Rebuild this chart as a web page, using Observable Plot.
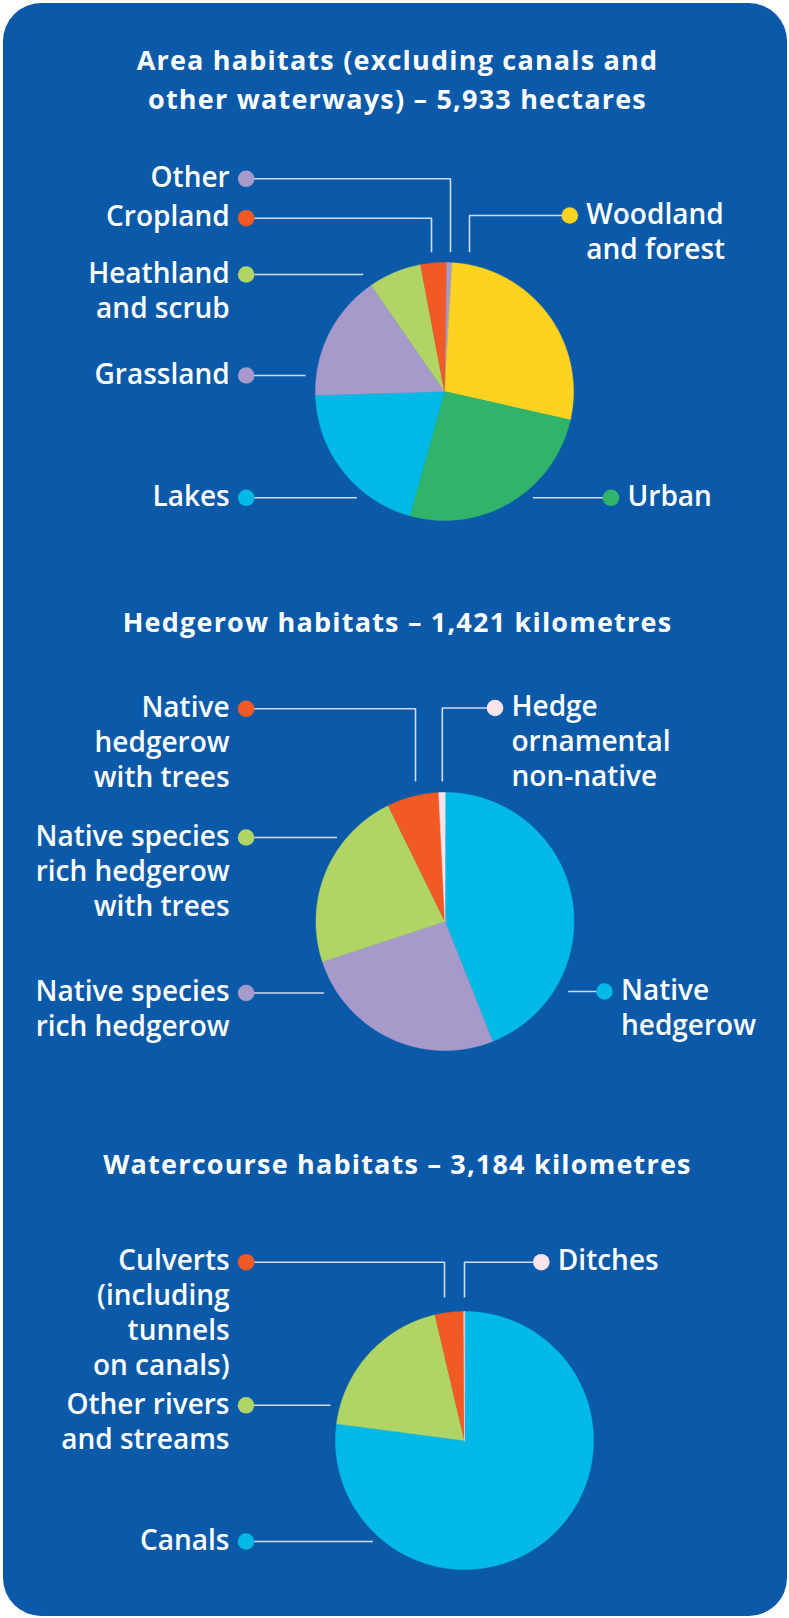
<!DOCTYPE html>
<html><head><meta charset="utf-8">
<script src="https://cdn.jsdelivr.net/npm/d3@7"></script>
<script src="https://cdn.jsdelivr.net/npm/@observablehq/plot@0.6"></script>
<style>
html,body{margin:0;padding:0;background:#fff;}
#card{position:absolute;left:3px;top:3px;width:784px;height:1613px;background:#0a5aa9;border-radius:38px;}
#chart{position:absolute;left:0;top:0;}
</style></head>
<body><div id="card"></div><div id="chart"></div>
<script>
// ---------- DATA ----------
const areaCategories = ["Other","Woodland and forest","Urban","Lakes","Grassland","Heathland and scrub","Cropland"];
const areaLabels = ["Other","Woodland\nand forest","Urban","Lakes","Grassland","Heathland\nand scrub","Cropland"];
const areaHectares = [45,1637,1531,1198,942,392,188];
const areaColors = ["#a69acb","#fdd31f","#2fb46a","#00b9e6","#a69acb","#b0d465","#f15a25"];

const hedgeCategories = ["Native hedgerow","Native species rich hedgerow","Native species rich hedgerow with trees","Native hedgerow with trees","Hedge ornamental non-native"];
const hedgeLabels = ["Native\nhedgerow","Native species\nrich hedgerow","Native species\nrich hedgerow\nwith trees","Native\nhedgerow\nwith trees","Hedge\nornamental\nnon-native"];
const hedgeKm = [625,369,324,92,11];
const hedgeColors = ["#00b9e6","#a69acb","#b0d465","#f15a25","#fbe3e9"];

const waterCategories = ["Canals","Other rivers and streams","Culverts (including tunnels on canals)","Ditches"];
const waterLabels = ["Canals","Other rivers\nand streams","Culverts\n(including\ntunnels\non canals)","Ditches"];
const waterKm = [2454,613,114,3];
const waterColors = ["#00b9e6","#b0d465","#f15a25","#fbe3e9"];

const titles = [
  "Area habitats (excluding canals and\nother waterways) – 5,933 hectares",
  "Hedgerow habitats – 1,421 kilometres",
  "Watercourse habitats – 3,184 kilometres"
];

// ---------- LAYOUT ----------
const W = 789, H = 1618;
const LABEL_SIZE = 28, LABEL_LH = 1.25;
const TITLE_SIZE = 27, TITLE_LH = 1.47;
const DOT_GAP = 16.5;
const titleLayout = [{x:397, y:56.5}, {x:397, y:619}, {x:397, y:1160.5}];
const pieLayout = [
  {cx:444, cy:391, r:129, startDeg:0.7},
  {cx:444.5, cy:921, r:129, startDeg:0},
  {cx:464, cy:1440, r:129, startDeg:0}
];
const areaLabelLayout = [
  {side:"left",  dot:[245.7,178.3], path:[[450,178.3],[450,251.7]]},
  {side:"right", dot:[569.3,215],   path:[[469,215],[469,251.7]]},
  {side:"right", dot:[610.5,497.3], path:[[532.5,497.3]]},
  {side:"left",  dot:[245.7,497.3], path:[[356.3,497.3]]},
  {side:"left",  dot:[245.7,375],   path:[[305,375]]},
  {side:"left",  dot:[245.7,274],   path:[[362.7,274]]},
  {side:"left",  dot:[245.7,217.7], path:[[431,217.7],[431,251.7]]}
];
const hedgeLabelLayout = [
  {side:"right", dot:[604,991],     path:[[567.7,991]]},
  {side:"left",  dot:[245.6,992.5], path:[[323.6,992.5]]},
  {side:"left",  dot:[245.6,837],   path:[[336.5,837]]},
  {side:"left",  dot:[245.6,708.3], path:[[415,708.3],[415,781]]},
  {side:"right", dot:[494.5,707.5], path:[[441.8,707.5],[441.8,781]]}
];
const waterLabelLayout = [
  {side:"left",  dot:[245.5,1541],   path:[[372.4,1541]]},
  {side:"left",  dot:[245.5,1404.8], path:[[330,1404.8]]},
  {side:"left",  dot:[245.6,1261.7], path:[[444,1261.7],[444,1297]]},
  {side:"right", dot:[540.8,1261.7], path:[[464,1261.7],[464,1297]]}
];

const charts = [
  {cats: areaCategories, labels: areaLabels, values: areaHectares, colors: areaColors, pie: pieLayout[0], lab: areaLabelLayout},
  {cats: hedgeCategories, labels: hedgeLabels, values: hedgeKm, colors: hedgeColors, pie: pieLayout[1], lab: hedgeLabelLayout},
  {cats: waterCategories, labels: waterLabels, values: waterKm, colors: waterColors, pie: pieLayout[2], lab: waterLabelLayout}
];

// ---------- BUILD TABLES ----------
const slices = [], leaders = [], dots = [], texts = [];
charts.forEach((c, ci) => {
  const p = c.pie;
  const a0 = p.startDeg * Math.PI / 180;
  const arcs = d3.pie().sort(null).value(d => d).startAngle(a0).endAngle(a0 + 2 * Math.PI)(c.values);
  arcs.forEach((a, i) => {
    const key = ci + "-" + i;
    const n = Math.max(2, Math.ceil((a.endAngle - a.startAngle) / (Math.PI / 360)));
    slices.push({key, color: c.colors[i], x: p.cx, y: p.cy});
    for (let k = 0; k <= n; k++) {
      const t = a.startAngle + (a.endAngle - a.startAngle) * k / n;
      slices.push({key, color: c.colors[i], x: p.cx + p.r * Math.sin(t), y: p.cy - p.r * Math.cos(t)});
    }
  });
  c.lab.forEach((l, i) => {
    const id = ci + "-" + i;
    leaders.push({id, x: l.dot[0], y: l.dot[1]});
    l.path.forEach(pt => leaders.push({id, x: pt[0], y: pt[1]}));
    dots.push({x: l.dot[0], y: l.dot[1], color: c.colors[i]});
    const nLines = c.labels[i].split("\n").length;
    texts.push({
      side: l.side,
      text: c.labels[i],
      x: l.side === "left" ? l.dot[0] - DOT_GAP : l.dot[0] + DOT_GAP,
      y: l.dot[1] - 3 + (nLines - 1) * LABEL_SIZE * LABEL_LH / 2
    });
  });
});
const titleData = titles.map((t, i) => ({
  text: t, x: titleLayout[i].x,
  y: titleLayout[i].y + (t.split("\n").length - 1) * TITLE_SIZE * TITLE_LH / 2
}));

const font = "'Open Sans', sans-serif";
const chart = Plot.plot({
  width: W, height: H, margin: 0,
  x: {domain: [0, W], range: [0, W], axis: null},
  y: {domain: [0, H], range: [0, H], axis: null},
  color: {type: "identity"},
  style: {background: "transparent", overflow: "visible"},
  marks: [
    Plot.line(slices, {x: "x", y: "y", z: "key", fill: "color", stroke: "color", strokeWidth: 0.5, curve: "linear-closed"}),
    Plot.line(leaders, {x: "x", y: "y", z: "id", stroke: "#cfdbee", strokeWidth: 1.6, strokeLinecap: "butt", strokeLinejoin: "miter"}),
    Plot.dot(dots, {x: "x", y: "y", r: 8.3, fill: "color", stroke: null}),
    Plot.text(texts.filter(d => d.side === "left"), {x: "x", y: "y", text: "text", textAnchor: "end", fill: "white", fontSize: LABEL_SIZE, fontWeight: 600, fontFamily: font, lineHeight: LABEL_LH}),
    Plot.text(texts.filter(d => d.side === "right"), {x: "x", y: "y", text: "text", textAnchor: "start", fill: "white", fontSize: LABEL_SIZE, fontWeight: 600, fontFamily: font, lineHeight: LABEL_LH}),
    Plot.text(titleData, {x: "x", y: "y", text: "text", textAnchor: "middle", fill: "white", fontSize: TITLE_SIZE, fontWeight: 700, fontFamily: font, lineHeight: TITLE_LH})
  ]
});
// widen title tracking to match the reference's wider typeface
chart.querySelectorAll("text").forEach(t => {
  if (t.getAttribute("font-weight") === "700" || (t.parentNode && t.parentNode.getAttribute && t.parentNode.getAttribute("font-weight") === "700")) {
    t.style.letterSpacing = "1.2px";
  }
});
document.getElementById("chart").appendChild(chart);
</script>
</body></html>
